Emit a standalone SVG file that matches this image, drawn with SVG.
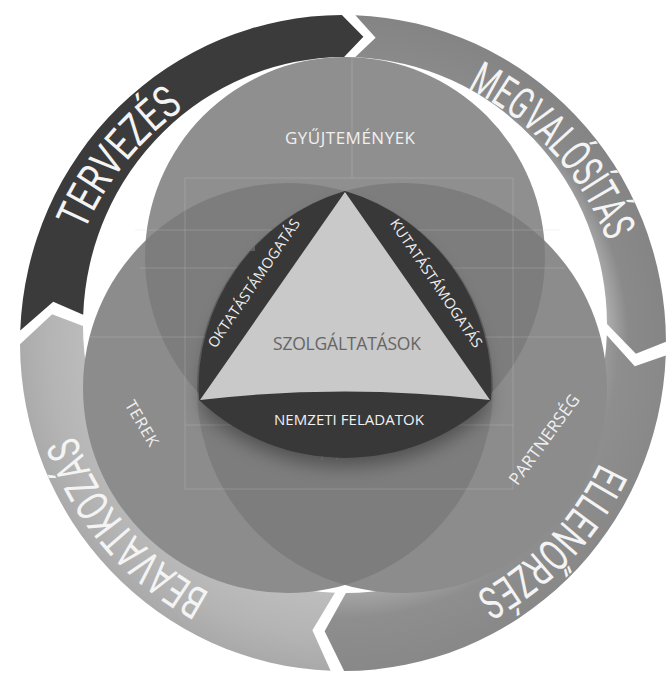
<svg xmlns="http://www.w3.org/2000/svg" width="667" height="673" viewBox="0 0 667 673">
<style>
.ring-label{font-family:Roboto,"Liberation Sans",sans-serif;font-size:45px;fill:#f4f4f4;}
.lbl{font-family:"Open Sans","Noto Sans","Liberation Sans",sans-serif;fill:#f0f0f0;text-anchor:middle;}
.grid{stroke:#d0d0d0;stroke-width:1;fill:none;opacity:0.25;}
.ov{fill:#000;fill-opacity:0.1;}
</style>
<defs>
<radialGradient id="gM" gradientUnits="userSpaceOnUse" cx="343" cy="343" r="328">
<stop offset="0.78" stop-color="#bdbdbd"/><stop offset="0.87" stop-color="#8a8a8a"/><stop offset="1" stop-color="#848484"/>
</radialGradient>
<radialGradient id="gE" gradientUnits="userSpaceOnUse" cx="343" cy="343" r="328">
<stop offset="0.76" stop-color="#a5a5a5"/><stop offset="0.84" stop-color="#8e8e8e"/><stop offset="1" stop-color="#888888"/>
</radialGradient>
<radialGradient id="gB" gradientUnits="userSpaceOnUse" cx="343" cy="343" r="328">
<stop offset="0.76" stop-color="#bdbdbd"/><stop offset="0.9" stop-color="#b4b4b4"/><stop offset="1" stop-color="#a9a9a9"/>
</radialGradient>
<clipPath id="cTop"><circle cx="345" cy="257" r="200"/></clipPath>
<clipPath id="cLeft"><circle cx="288" cy="388" r="205"/></clipPath>
<filter id="soft" x="-20%" y="-20%" width="140%" height="140%"><feGaussianBlur stdDeviation="9"/></filter>
<path id="pT" d="M 84.50 231.42 A 283 283 0 0 1 186.87 106.66"/>
<path id="pM" d="M 467.06 88.64 A 283 283 0 0 1 607.20 241.58"/>
<path id="pE" d="M 599.49 462.60 A 283 283 0 0 1 475.86 592.87"/>
<path id="pB" d="M 210.14 592.87 A 283 283 0 0 1 75.42 435.14"/>
</defs>
<rect width="667" height="673" fill="#ffffff"/>

<g id="ring">
<g id="tervezes">
<path d="M 20.24 330.41 A 323 328 0 0 1 341.87 15.0 L 363.38 36.66 L 344.09 57.0 A 262 268 0 0 0 83.19 314.71 L 53.21 301.82 Z" fill="#3b3b3b"/>
<text class="ring-label"><textPath href="#pT" textLength="160" lengthAdjust="spacingAndGlyphs">TERVEZÉS</textPath></text>
</g>
<g id="megvalositas">
<path d="M 355.40 15.24 A 323 328 0 0 1 666.0 341.86 L 635.86 353.75 L 607.0 324.06 A 262 268 0 0 0 355.06 57.20 L 375.59 37.74 Z" fill="url(#gM)"/>
<text class="ring-label"><textPath href="#pM" textLength="212" lengthAdjust="spacingAndGlyphs">MEGVALÓSÍTÁS</textPath></text>
</g>
<g id="ellenorzes">
<path d="M 665.76 355.59 A 323 328 0 0 1 344.13 671.0 L 324.62 631.34 L 345.91 593.0 A 262 268 0 0 0 606.81 335.29 L 634.79 366.18 Z" fill="url(#gE)"/>
<text class="ring-label"><textPath href="#pE" textLength="183" lengthAdjust="spacingAndGlyphs">ELLENŐRZÉS</textPath></text>
</g>
<g id="beavatkozas">
<path d="M 330.60 670.76 A 323 328 0 0 1 20.0 344.14 L 52.14 314.25 L 83.0 325.94 A 262 268 0 0 0 334.94 592.80 L 312.41 630.26 Z" fill="url(#gB)"/>
<text class="ring-label"><textPath href="#pB" textLength="212" lengthAdjust="spacingAndGlyphs">BEAVATKOZÁS</textPath></text>
</g>
</g>

<g id="venn">
<g id="gyujtemenyek">
<circle cx="345" cy="257" r="200" fill="#8f8f8f"/>
</g>
<g id="terek">
<circle cx="288" cy="388" r="205" fill="#8c8c8c"/>
</g>
<g id="partnerseg">
<circle cx="402" cy="388" r="205" fill="#8c8c8c"/>
</g>
<g id="overlaps">
<circle class="ov" cx="288" cy="388" r="205" clip-path="url(#cTop)"/>
<circle class="ov" cx="402" cy="388" r="205" clip-path="url(#cTop)"/>
<circle class="ov" cx="402" cy="388" r="205" clip-path="url(#cLeft)"/>
</g>
</g>

<g id="guides">
<rect class="grid" x="185" y="178" width="328" height="311"/>
<line class="grid" x1="352" y1="58" x2="352" y2="178"/>
<line class="grid" x1="135" y1="230" x2="560" y2="230"/>
<line class="grid" x1="140" y1="268" x2="565" y2="268"/>
<line class="grid" x1="90" y1="337" x2="600" y2="337"/>
<line class="grid" x1="185" y1="425" x2="513" y2="425"/>
<line class="grid" x1="322" y1="390" x2="322" y2="460"/>
<line class="grid" x1="337" y1="390" x2="337" y2="460"/>
</g>

<g id="core">
<path d="M 345 197 A 205 205 0 0 0 203 404 A 213 213 0 0 0 487 404 A 205 205 0 0 0 345 197 Z" fill="#000" opacity="0.35" filter="url(#soft)" transform="translate(0,8)"/>
<path d="M 345 191 A 205 205 0 0 0 199 400 A 213 213 0 0 0 491 400 A 205 205 0 0 0 345 191 Z" fill="#383838"/>
<path id="szolgaltatasok" d="M 345 192 L 490 400 Q 345 383 200 400 Z" fill="#c9c9c9"/>
</g>

<g id="labels">
<text class="lbl" x="350" y="144" font-size="17" textLength="130">GYŰJTEMÉNYEK</text>
<text class="lbl" transform="translate(137,426) rotate(59.7)" font-size="16" textLength="50">TEREK</text>
<text class="lbl" transform="translate(549,443) rotate(-54)" font-size="17" textLength="107">PARTNERSÉG</text>
<text class="lbl" transform="translate(258,286) rotate(-55.9)" font-size="14.5" textLength="152">OKTATÁSTÁMOGATÁS</text>
<text class="lbl" transform="translate(432,286) rotate(55.9)" font-size="14.5" textLength="152">KUTATÁSTÁMOGATÁS</text>
<text class="lbl" x="349" y="425" font-size="15" textLength="150">NEMZETI FELADATOK</text>
<text class="lbl" x="347" y="350" font-size="17.5" textLength="148" style="fill:#666666">SZOLGÁLTATÁSOK</text>
</g>
<g id="connectors"/>
</svg>
